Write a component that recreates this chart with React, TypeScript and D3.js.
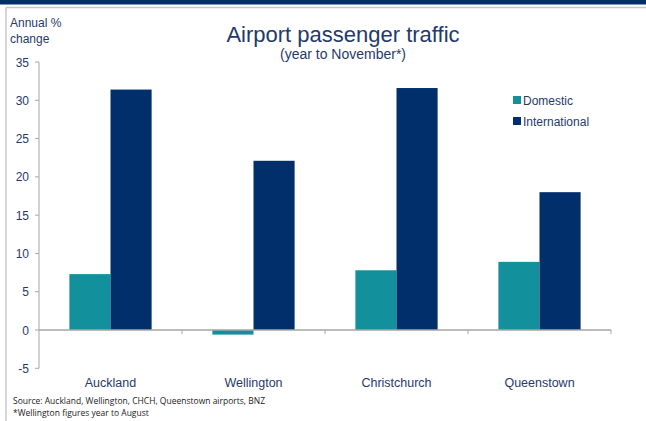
import React from 'react';
import * as d3 from 'd3';

const airports = ['Auckland', 'Wellington', 'Christchurch', 'Queenstown'];
const domestic = [7.3, -0.6, 7.8, 8.9];
const international = [31.4, 22.1, 31.6, 18.0];
const seriesNames = ['Domestic', 'International'];
const seriesColors = ['#12909C', '#002F6C'];
const yTicks = [-5, 0, 5, 10, 15, 20, 25, 30, 35];

const W = 646;
const H = 421;
const TEXT = '#1F3A6B';
const AXIS = '#A6A6A6';

function App() {
  const x = d3.scaleBand().domain(airports).range([39, 611]).paddingInner(0.425).paddingOuter(0.2125);
  const inner = d3.scaleBand().domain(seriesNames).range([0, x.bandwidth()]);
  const y = d3.scaleLinear().domain([-5, 35]).range([368.3, 62]);
  const values = [domestic, international];
  const step = x.step();

  return (
    <svg width={W} height={H} style={{ position: 'absolute', left: 0, top: 0, fontFamily: 'Liberation Sans, Arial, sans-serif' }}>
      <rect x={0} y={0} width={W} height={H} fill="#fff" />
      <rect x={0} y={0} width={W} height={4.5} fill="#002F6C" />
      <line x1={6} x2={W} y1={7.5} y2={7.5} stroke="#C8C8C8" strokeWidth={1.5} />
      <line x1={6} x2={6} y1={7.5} y2={H} stroke="#C8C8C8" strokeWidth={1.5} />

      <text x={10} y={27} fontSize={12} fill={TEXT}>Annual %</text>
      <text x={10} y={43} fontSize={12} fill={TEXT}>change</text>
      <text x={343} y={42} fontSize={22} fill={TEXT} textAnchor="middle">Airport passenger traffic</text>
      <text x={343} y={59} fontSize={14} fill={TEXT} textAnchor="middle">(year to November*)</text>

      {airports.map((a, i) =>
        values.map((vals, s) => {
          const v = vals[i];
          const bx = (x(a) as number) + (inner(seriesNames[s]) as number);
          return (
            <rect key={a + s} x={bx} width={inner.bandwidth()} y={y(Math.max(0, v))}
              height={Math.abs(y(v) - y(0))} fill={seriesColors[s]} />
          );
        })
      )}

      <line x1={39} x2={39} y1={y(35)} y2={y(-5)} stroke={AXIS} strokeWidth={1} />
      {yTicks.map(t => (
        <g key={t}>
          <line x1={35} x2={39} y1={y(t)} y2={y(t)} stroke={AXIS} />
          <text x={29} y={y(t) + 4.5} fontSize={12} fill={TEXT} textAnchor="end">{t}</text>
        </g>
      ))}
      <line x1={39} x2={611} y1={y(0)} y2={y(0)} stroke={AXIS} strokeWidth={1.5} />
      {airports.map((a, i) => (
        <line key={a} x1={39 + step * (i + 1)} x2={39 + step * (i + 1)} y1={y(0)} y2={y(0) + 4} stroke={AXIS} />
      ))}
      {airports.map(a => (
        <text key={a} x={(x(a) as number) + x.bandwidth() / 2} y={387} fontSize={12.5} fill={TEXT} textAnchor="middle">{a}</text>
      ))}

      {seriesNames.map((n, s) => (
        <g key={n} transform={`translate(513, ${96 + s * 21})`}>
          <rect x={0} y={0} width={8} height={8} fill={seriesColors[s]} />
          <text x={10} y={8.5} fontSize={12} fill={TEXT}>{n}</text>
        </g>
      ))}

      <text x={13} y={404} fontSize={8.5} fill="#222" fontFamily="Open Sans, sans-serif">Source: Auckland, Wellington, CHCH, Queenstown airports, BNZ</text>
      <text x={13} y={416} fontSize={8.5} fill="#222" fontFamily="Open Sans, sans-serif">*Wellington figures year to August</text>
    </svg>
  );
}

export default App;
